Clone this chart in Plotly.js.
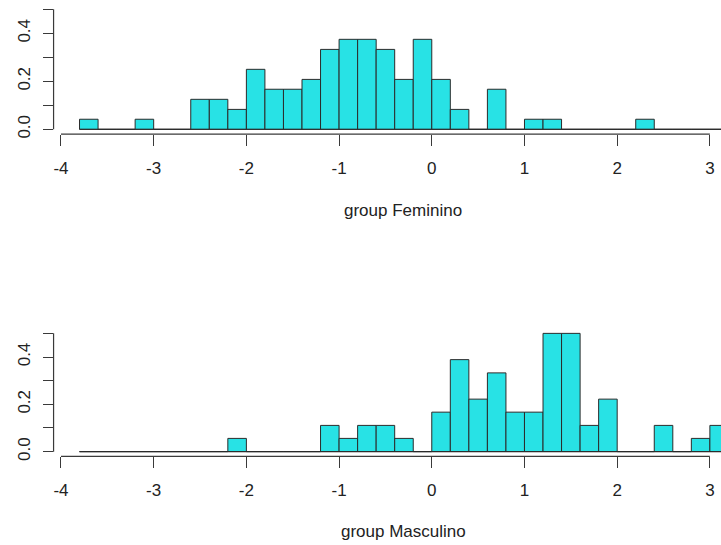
<!DOCTYPE html>
<html>
<head>
<meta charset="utf-8">
<script src="https://cdn.plot.ly/plotly-3.0.1.min.js"></script>
<style>html,body{margin:0;padding:0;background:#fff;}#chart{width:721px;height:545px;}</style>
</head>
<body>
<div id="chart"></div>
<script>
// Bin midpoints (bin width 0.2, breaks from -3.8 to 3.2)
var binMid = [-3.7,-3.5,-3.3,-3.1,-2.9,-2.7,-2.5,-2.3,-2.1,-1.9,-1.7,-1.5,-1.3,-1.1,-0.9,-0.7,-0.5,-0.3,-0.1,
              0.1,0.3,0.5,0.7,0.9,1.1,1.3,1.5,1.7,1.9,2.1,2.3,2.5,2.7,2.9,3.1];
var binWidth = 0.2;
// Densities, group Feminino
var densFeminino = [0.042,0,0,0.042,0,0,0.125,0.125,0.083,0.250,0.167,0.167,0.208,0.333,0.375,0.375,0.333,0.208,0.375,
                    0.208,0.083,0,0.167,0,0.042,0.042,0,0,0,0,0.042,0,0,0,0];
// Densities, group Masculino
var densMasculino = [0,0,0,0,0,0,0,0,0.056,0,0,0,0,0.111,0.056,0.111,0.111,0.056,0,
                     0.167,0.389,0.222,0.333,0.167,0.167,0.500,0.500,0.111,0.222,0,0,0.111,0,0.056,0.111];
var groupLabels = ["group Feminino", "group Masculino"];
var xTicks = [-4,-3,-2,-1,0,1,2,3];
var yTicks = [0,0.1,0.2,0.3,0.4,0.5];
var yTickText = ["0.0","","0.2","","0.4",""];

var fillCol = "#28E2E5";
var lineCol = "#2b2b2b";
var axCol = "#3a3a3a";
var font = {family: "Liberation Sans, Arial, sans-serif", size: 17, color: "#222"};

function barTrace(y, xa, ya) {
  return {type: "bar", x: binMid, y: y, width: binWidth, xaxis: xa, yaxis: ya,
          marker: {color: fillCol, line: {color: lineCol, width: 1}}, hoverinfo: "x+y", showlegend: false};
}
function baseTrace(xa, ya) {
  var x0 = binMid[0] - binWidth / 2, x1 = binMid[binMid.length - 1] + binWidth / 2;
  return {type: "scatter", mode: "lines", x: [x0, x1], y: [0, 0], xaxis: xa, yaxis: ya,
          line: {color: lineCol, width: 1}, hoverinfo: "skip", showlegend: false};
}

var data = [barTrace(densFeminino, "x", "y"), baseTrace("x", "y"),
            barTrace(densMasculino, "x2", "y2"), baseTrace("x2", "y2")];

function xAxis(anchor) {
  return {domain: [0.0743, 1], range: [-4.08, 3.12], anchor: anchor, showgrid: false, zeroline: false,
          showline: false, ticks: "outside", ticklen: 11, tickwidth: 1, tickcolor: axCol,
          tickmode: "array", tickvals: xTicks, ticktext: xTicks.map(String), ticklabelstandoff: 7,
          tickfont: font, fixedrange: true};
}
function yAxis(anchor, dom) {
  return {domain: dom, range: [-0.02, 0.52], anchor: anchor, showgrid: false, zeroline: false,
          showline: false, ticks: "outside", ticklen: 10, tickwidth: 1, tickcolor: axCol,
          tickmode: "array", tickvals: yTicks, ticktext: yTickText, tickangle: -90,
          ticklabelstandoff: 6, tickfont: font, fixedrange: true};
}

var shapes = [];
[["x","y"],["x2","y2"]].forEach(function(p){
  shapes.push({type: "line", xref: p[0], yref: p[1] + " domain", x0: xTicks[0], x1: xTicks[xTicks.length-1], y0: 0, y1: 0,
               line: {color: axCol, width: 1.2}});
  shapes.push({type: "line", xref: p[0] + " domain", yref: p[1], x0: 0, x1: 0, y0: yTicks[0], y1: yTicks[yTicks.length-1],
               line: {color: axCol, width: 1.2}});
});

var layout = {
  width: 721, height: 545,
  margin: {l: 0, r: 0, t: 0, b: 0},
  paper_bgcolor: "#fff", plot_bgcolor: "#fff",
  bargap: 0,
  xaxis: xAxis("y"), yaxis: yAxis("x", [0.7539, 0.9917]),
  xaxis2: xAxis("y2"), yaxis2: yAxis("x2", [0.1626, 0.3970]),
  shapes: shapes,
  annotations: [
    {text: groupLabels[0], xref: "paper", yref: "paper", x: 0.559, y: 0.6145, xanchor: "center", yanchor: "middle", showarrow: false, font: font},
    {text: groupLabels[1], xref: "paper", yref: "paper", x: 0.559, y: 0.0255, xanchor: "center", yanchor: "middle", showarrow: false, font: font}
  ],
  font: font
};

Plotly.newPlot("chart", data, layout, {staticPlot: true, displayModeBar: false});
</script>
</body>
</html>
